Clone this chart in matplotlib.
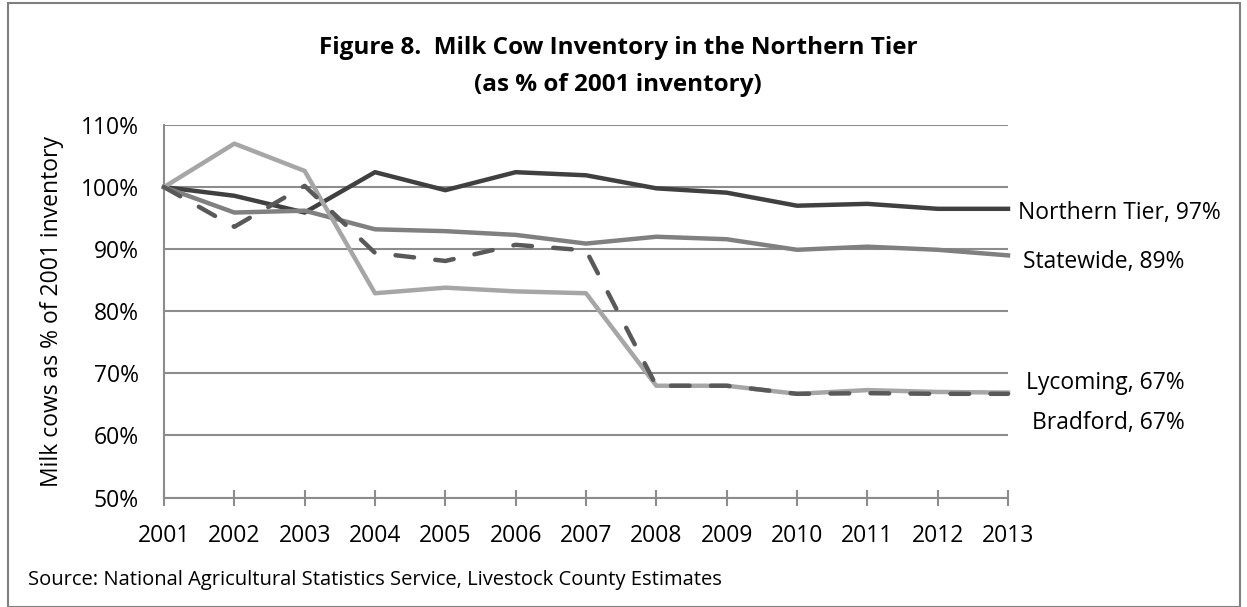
import matplotlib
matplotlib.use("Agg")
import matplotlib.pyplot as plt
from matplotlib.patches import Rectangle

years = [2001, 2002, 2003, 2004, 2005, 2006, 2007, 2008, 2009, 2010, 2011, 2012, 2013]
northern_tier = [100, 98.6, 95.9, 102.4, 99.5, 102.4, 101.9, 99.8, 99.1, 97.0, 97.3, 96.5, 96.5]
statewide = [100, 95.9, 96.2, 93.2, 92.9, 92.3, 90.9, 92.0, 91.6, 89.9, 90.4, 89.9, 89.0]
lycoming = [100, 107.0, 102.6, 82.9, 83.8, 83.2, 82.9, 68.0, 68.0, 66.7, 67.3, 67.0, 66.9]
bradford = [100, 93.6, 100.2, 89.4, 88.1, 90.7, 89.8, 68.0, 68.0, 66.7, 66.8, 66.7, 66.7]
yticks = [50, 60, 70, 80, 90, 100, 110]

plt.rcParams['font.family'] = ['Open Sans', 'DejaVu Sans']

fig = plt.figure(figsize=(12.47, 6.07), dpi=100)
W, H = 1247, 607
ax = fig.add_axes([164 / W, 1 - 497.5 / H, (1008 - 164) / W, (497.5 - 125) / H])

grid_c = '#8c8c8c'
fs = 16.5
ax.set_xlim(years[0], years[-1])
ax.set_ylim(50, 110)
ax.set_yticks(yticks)
ax.set_yticklabels([f"{v}%" for v in yticks])
ax.set_xticks(years)
ax.set_xticklabels([str(y) for y in years])
ax.grid(axis='y', color=grid_c, linewidth=1.5)
ax.set_axisbelow(True)
for s in ['top', 'right']:
    ax.spines[s].set_visible(False)
for s in ['left', 'bottom']:
    ax.spines[s].set_color(grid_c)
    ax.spines[s].set_linewidth(1.5)
ax.tick_params(axis='y', length=0, pad=18, labelsize=fs)
ax.tick_params(axis='x', direction='inout', length=12, width=1.5, color=grid_c, pad=13, labelsize=fs)

lw = 3.2
ax.plot(years, northern_tier, color='#404040', lw=lw, solid_joinstyle='round', clip_on=False, zorder=3)
ax.plot(years, statewide, color='#808080', lw=lw, solid_joinstyle='round', clip_on=False, zorder=3)
ax.plot(years, lycoming, color='#a6a6a6', lw=lw, solid_joinstyle='round', clip_on=False, zorder=3)
ax.plot(years, bradford, color='#595959', lw=lw, dashes=(4.2, 4.8), dash_capstyle='round',
        clip_on=False, zorder=4)

ax.set_ylabel('Milk cows as % of 2001 inventory', fontsize=fs)
ax.yaxis.set_label_coords((52 - 164) / (1008 - 164), 0.5)
ax.yaxis.label.set_va('center')

lab_kw = dict(fontsize=fs, va='center', ha='left', annotation_clip=False)
ax.annotate('Northern Tier, 97%', xy=(years[-1], northern_tier[-1]), xytext=(7, -3),
            textcoords='offset points', **lab_kw)
ax.annotate('Statewide, 89%', xy=(years[-1], statewide[-1]), xytext=(11, -5),
            textcoords='offset points', **lab_kw)
ax.annotate('Lycoming, 67%', xy=(years[-1], lycoming[-1]), xytext=(13, 7),
            textcoords='offset points', **lab_kw)
ax.annotate('Bradford, 67%', xy=(years[-1], bradford[-1]), xytext=(17, -21),
            textcoords='offset points', **lab_kw)

fig.text(618 / W, 1 - 48 / H, 'Figure 8.  Milk Cow Inventory in the Northern Tier',
         ha='center', va='center', fontsize=17.5, fontweight='bold')
fig.text(618 / W, 1 - 85 / H, '(as % of 2001 inventory)',
         ha='center', va='center', fontsize=17.5, fontweight='bold')
fig.text(28 / W, 1 - 580 / H, 'Source: National Agricultural Statistics Service, Livestock County Estimates',
         ha='left', va='center', fontsize=14.5)

fig.patches.append(Rectangle((8 / W, 0), (1240 - 8) / W, 1 - 3 / H, transform=fig.transFigure,
                             fill=False, edgecolor='#7f7f7f', linewidth=1.5))

fig.savefig('out.png', dpi=100)
